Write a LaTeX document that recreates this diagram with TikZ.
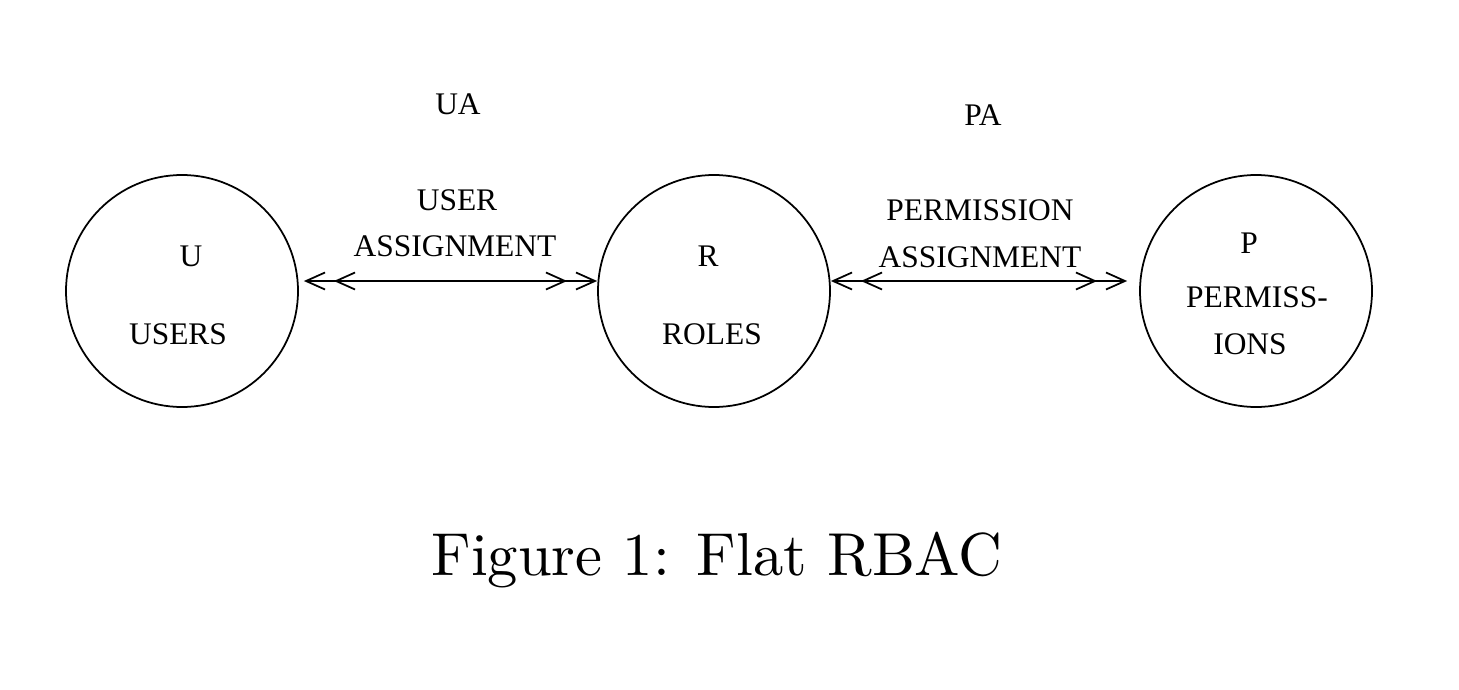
\documentclass[tikz,border=0pt]{standalone}
\usepackage{fontspec}
\newfontfamily\figfont{Liberation Serif}
\newfontfamily\capfont{lmroman10-regular}[Extension=.otf]
\usetikzlibrary{arrows.meta}
\usetikzlibrary{positioning}

\tikzset{
  set/.style={circle,draw=black,line width=1pt,minimum size=4.64cm,inner sep=0pt},
  lbl/.style={font=\figfont\fontsize{17.9}{21}\selectfont,text=black,inner sep=0pt},
  rel/.style={line width=1pt,
    {Straight Barb[length=3.8mm,width=3.4mm]Straight Barb[length=3.8mm,width=3.4mm,sep=1.6mm]}-{Straight Barb[length=3.8mm,width=3.4mm,sep=1.6mm]Straight Barb[length=3.8mm,width=3.4mm]}}
}

\begin{document}
\begin{tikzpicture}
\useasboundingbox (0,0) rectangle (29.18,-13.8);
\node[set] (U) at (3.64,-5.82) {};
\node[set] (R) at (14.28,-5.82) {};
\node[set] (P) at (25.12,-5.82) {};

\node[lbl] (u) at (3.82,-5.12) {U};
\node[lbl] (users) at (3.56,-6.68) {USERS};
\node[lbl] (r) at (14.16,-5.12) {R};
\node[lbl] (roles) at (14.24,-6.68) {ROLES};
\node[lbl] (p) at (24.98,-4.86) {P};
\node[lbl] (perm1) at (25.14,-5.94) {PERMISS-};
\node[lbl] (perm2) at (25.0,-6.88) {IONS};

\node[lbl] (ua) at (9.16,-2.08) {UA};
\node[lbl] (ua1) at (9.14,-4.0) {USER};
\node[lbl] (ua2) at (9.1,-4.92) {ASSIGNMENT};
\node[lbl] (pa) at (19.66,-2.3) {PA};
\node[lbl] (pa1) at (19.6,-4.2) {PERMISSION};
\node[lbl] (pa2) at (19.6,-5.14) {ASSIGNMENT};

\draw[rel] ([shift={(0.1,0.2)}]U.east) -- ([yshift=0.2cm]R.west);
\draw[rel] ([yshift=0.2cm]R.east) -- ([shift={(-0.24,0.2)}]P.west);

\node[font=\capfont\fontsize{34.5}{40}\selectfont,text=black,anchor=base] (cap) at (14.34,-11.5) {Figure 1: Flat RBAC};
\end{tikzpicture}
\end{document}
